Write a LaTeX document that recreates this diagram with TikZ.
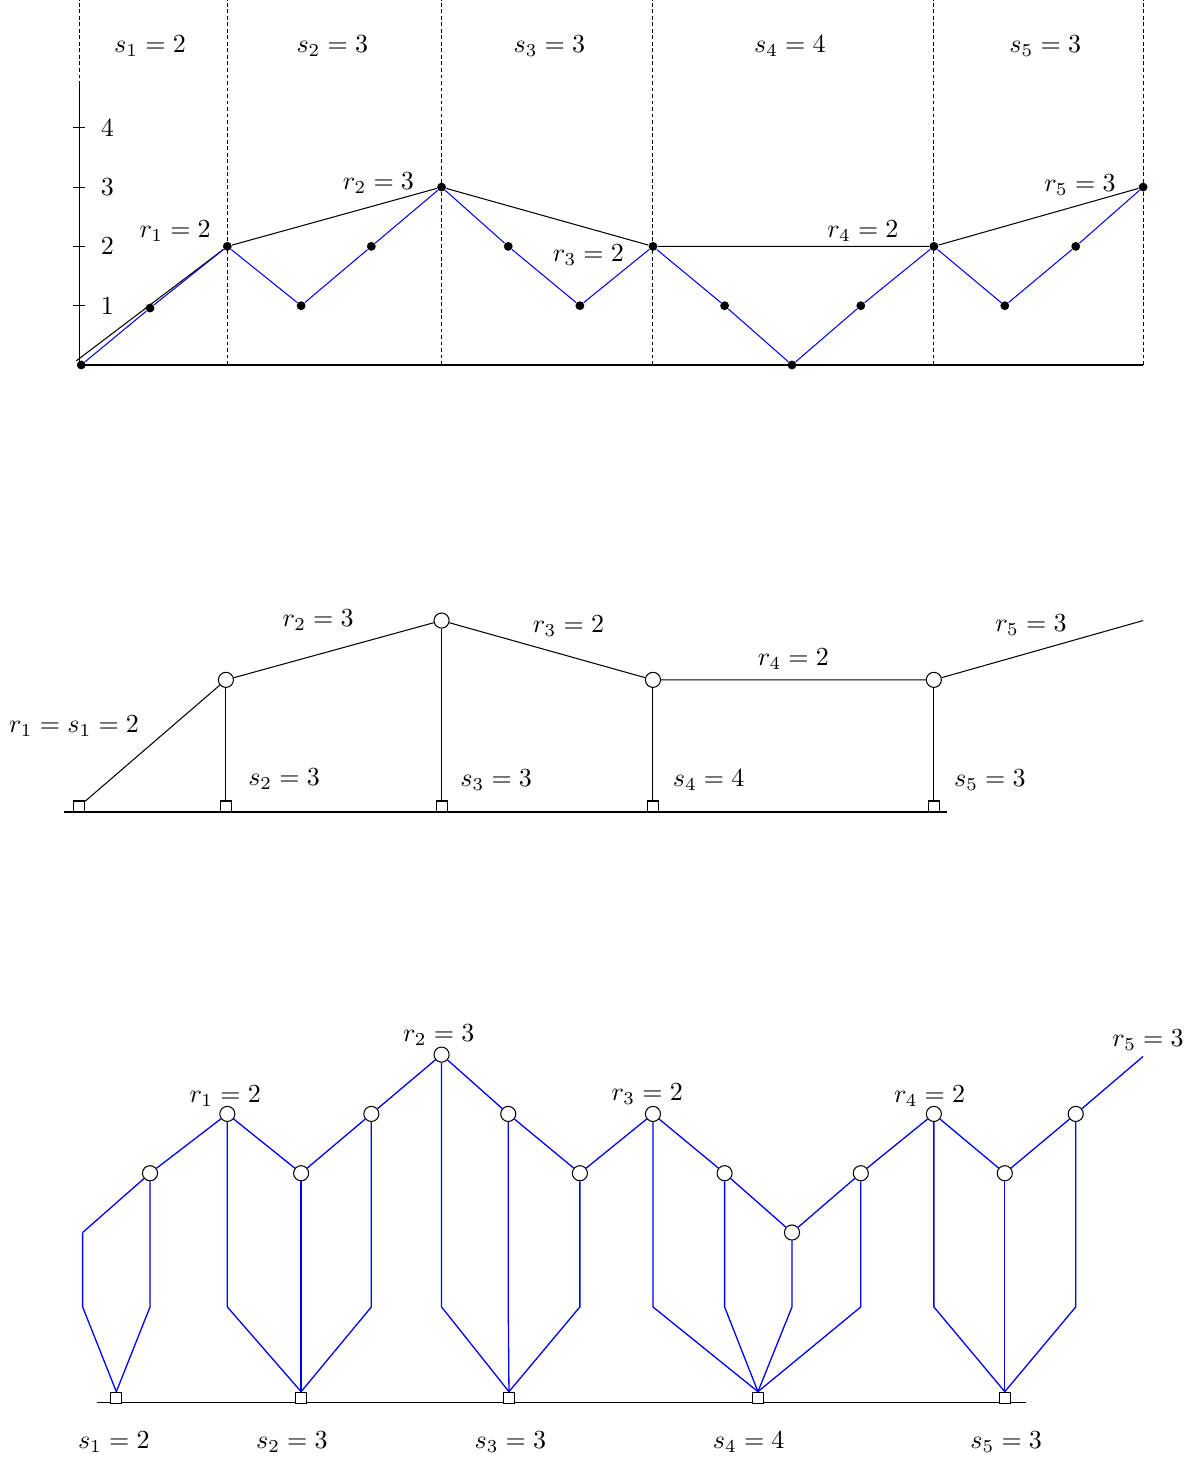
\documentclass[tikz,border=0pt]{standalone}
\usepackage{amsmath}
\usepackage{tikz}

\begin{document}
\begin{tikzpicture}[x=0.957cm, y=0.8cm,
  dot/.style={circle, fill=black, inner sep=0pt, minimum size=3.4pt},
  ring/.style={circle, draw, fill=white, inner sep=0pt, minimum size=5.8pt},
  sqr/.style={rectangle, draw, fill=white, inner sep=0pt, minimum size=4.2pt},
  guide/.style={dash pattern=on 1.5pt off 1pt},
  wire/.style={blue, line width=0.5pt}]

\useasboundingbox (-1.115,-18.5) rectangle (15.775,6.155);

\draw (0,0) -- (15,0);
\draw (0,0) -- (0,4.755);
\foreach \k in {1,...,4} {
  \draw (-0.085,\k) -- (0.085,\k);
  \node at (0.4,\k) {$\k$};
}
\foreach \x in {0,2.09,5.11,8.09,12.05,15}
  \draw[guide] (\x,0) -- (\x,6.155);

\node at (1.0,5.38) {$s_1 = 2$};
\node at (3.57,5.38) {$s_2 = 3$};
\node at (6.63,5.38) {$s_3 = 3$};
\node at (10.02,5.38) {$s_4 = 4$};
\node at (13.62,5.38) {$s_5 = 3$};

\foreach \i/\x/\y in {0/0.03/0, 1/1.0/0.96, 2/2.09/2, 3/3.13/1, 4/4.12/2, 5/5.11/3,
  6/6.05/2, 7/7.06/1, 8/8.09/2, 9/9.10/1, 10/10.05/0, 11/11.02/1, 12/12.05/2,
  13/13.05/1, 14/14.05/2, 15/15/3}
  \node[dot] (p\i) at (\x,\y) {};

\coordinate (o) at (-0.04,0.07);
\draw (o) -- (p2) -- (p5) -- (p8) -- (p12) -- (p15);
\foreach \i [remember=\i as \j (initially 0)] in {1,...,15}
  \draw[blue] (p\j) -- (p\i);

\node at (1.355,2.26) {$r_1 = 2$};
\node at (4.22,3.07) {$r_2 = 3$};
\node at (7.18,1.855) {$r_3 = 2$};
\node at (11.05,2.26) {$r_4 = 2$};
\node at (14.11,3.035) {$r_5 = 3$};


\begin{scope}[shift={(0,-7.31)}]
\coordinate (gl) at (-0.21,-0.228);
\coordinate (gr) at (12.23,-0.228);
\draw (gl) -- (gr);

\node[sqr] (g0) at (0,-0.135) {};
\node[sqr] (g1) at (2.07,-0.135) {};
\node[sqr] (g2) at (5.11,-0.135) {};
\node[sqr] (g3) at (8.09,-0.135) {};
\node[sqr] (g4) at (12.05,-0.135) {};

\node[ring] (m2) at (2.07,2) {};
\node[ring] (m5) at (5.11,3) {};
\node[ring] (m8) at (8.09,2) {};
\node[ring] (m12) at (12.05,2) {};
\coordinate (mend) at (15,3);

\draw (g0) -- (m2) -- (m5) -- (m8) -- (m12) -- (mend);
\draw (m2) -- (g1);
\draw (m5) -- (g2);
\draw (m8) -- (g3);
\draw (m12) -- (g4);

\node at (-0.07,1.225) {$r_1 = s_1 = 2$};
\node at (3.37,3.01) {$r_2 = 3$};
\node at (6.9,2.91) {$r_3 = 2$};
\node at (10.07,2.355) {$r_4 = 2$};
\node at (13.42,2.93) {$r_5 = 3$};
\node at (2.89,0.33) {$s_2 = 3$};
\node at (5.88,0.31) {$s_3 = 3$};
\node at (8.875,0.31) {$s_4 = 4$};
\node at (12.84,0.31) {$s_5 = 3$};
\end{scope}


\begin{scope}[shift={(0,-14.63)}]
\coordinate (bl) at (0.254,-2.866);
\coordinate (br) at (13.35,-2.866);
\draw (bl) -- (br);

\node[sqr] (q1) at (0.525,-2.785) {};
\node[sqr] (q2) at (3.13,-2.785) {};
\node[sqr] (q3) at (6.06,-2.785) {};
\node[sqr] (q4) at (9.57,-2.785) {};
\node[sqr] (q5) at (13.05,-2.785) {};

\foreach \i/\x/\y in {1/1.0/1, 2/2.09/2, 3/3.13/1, 4/4.12/2, 5/5.11/3,
  6/6.05/2, 7/7.06/1, 8/8.09/2, 9/9.10/1, 10/10.05/0, 11/11.02/1, 12/12.05/2,
  13/13.05/1, 14/14.05/2}
  \node[ring] (b\i) at (\x,\y) {};
\coordinate (c0) at (0.05,0);
\coordinate (bend) at (15,2.97);

\draw[wire] (c0) -- (b1);
\foreach \i [remember=\i as \j (initially 1)] in {2,...,14}
  \draw[wire] (b\j) -- (b\i);
\draw[wire] (b14) -- (bend);
\draw[wire] (c0) -- (c0 |- 0,-1.255) -- (q1.north);
\foreach \i/\q in {1/q1, 2/q2, 3/q2, 4/q2, 5/q3, 6/q3, 7/q3, 8/q4, 9/q4,
  10/q4, 11/q4, 12/q5, 13/q5, 14/q5}
  \draw[wire] (b\i) -- (b\i |- 0,-1.255) -- (\q.north);

\node at (2.06,2.30) {$r_1 = 2$};
\node at (5.07,3.33) {$r_2 = 3$};
\node at (8.01,2.34) {$r_3 = 2$};
\node at (11.99,2.30) {$r_4 = 2$};
\node at (15.07,3.25) {$r_5 = 3$};

\node at (0.49,-3.53) {$s_1 = 2$};
\node at (3.0,-3.53) {$s_2 = 3$};
\node at (6.08,-3.53) {$s_3 = 3$};
\node at (9.44,-3.53) {$s_4 = 4$};
\node at (13.07,-3.53) {$s_5 = 3$};
\end{scope}

\end{tikzpicture}
\end{document}
